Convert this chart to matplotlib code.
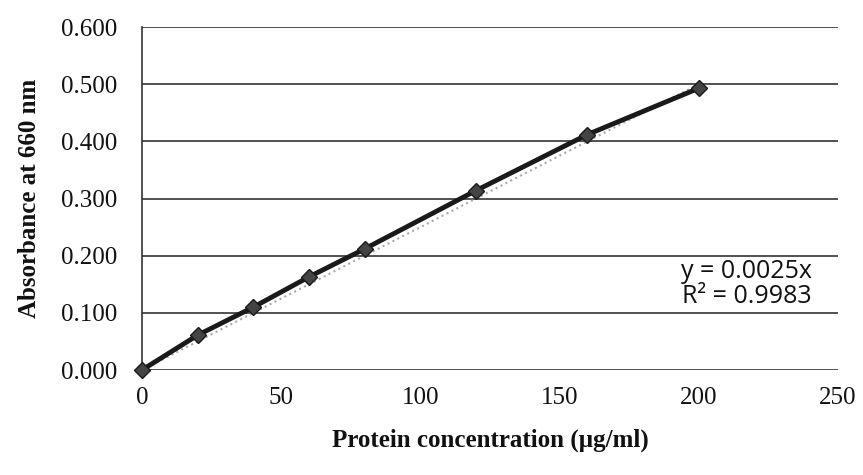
import numpy as np
import matplotlib.pyplot as plt

# Standard curve data
conc = [0, 20, 40, 60, 80, 120, 160, 200]
absorb = [0.000, 0.061, 0.110, 0.163, 0.212, 0.314, 0.412, 0.493]
slope = 0.0025
r2 = 0.9983

fig = plt.figure(figsize=(8.63, 4.75), dpi=100)
ax = fig.add_axes([0.1645, 0.221, 0.8065, 0.722])

# linear trendline through origin
xt = np.array([0, 200])
ax.plot(xt, slope*xt, color='#aaaaaa', lw=1.5, ls=':', zorder=3)
ax.plot(conc, absorb, color='#1a1a1a', lw=3.5, marker='D', ms=8,
        mfc='#444444', mec='#1a1a1a', zorder=4, clip_on=False)

ax.set_xlim(0, 250)
ax.set_ylim(0, 0.6)
ax.set_xticks(np.arange(0, 251, 50))
ax.set_yticks(np.arange(0, 0.61, 0.1))
ax.set_yticklabels(['%.3f' % v for v in np.arange(0, 0.61, 0.1)])
ax.grid(axis='y', color='#333333', lw=1.2)
ax.set_axisbelow(True)
for s in ['top', 'right', 'bottom']:
    ax.spines[s].set_visible(False)
ax.spines['left'].set_color('#333333')
ax.spines['left'].set_linewidth(1.2)
ax.tick_params(length=0, pad=12, labelsize=18, colors='#111111')
for lab in ax.get_xticklabels() + ax.get_yticklabels():
    lab.set_family('Liberation Serif')
ax.tick_params(axis='y', pad=18)

ax.set_xlabel('Protein concentration (µg/ml)', family='Liberation Serif',
              weight='bold', fontsize=18, labelpad=14, color='#111111')
ax.set_ylabel('Absorbance at 660 nm', family='Liberation Serif',
              weight='bold', fontsize=18, labelpad=14, color='#111111')

ax.text(0.962, 0.25, 'y = %.4fx\nR² = %.4f' % (slope, r2), transform=ax.transAxes,
        ha='right', va='center', fontsize=18, family='Open Sans',
        linespacing=1.0, color='#111111')

fig.savefig('out.png', dpi=100)
